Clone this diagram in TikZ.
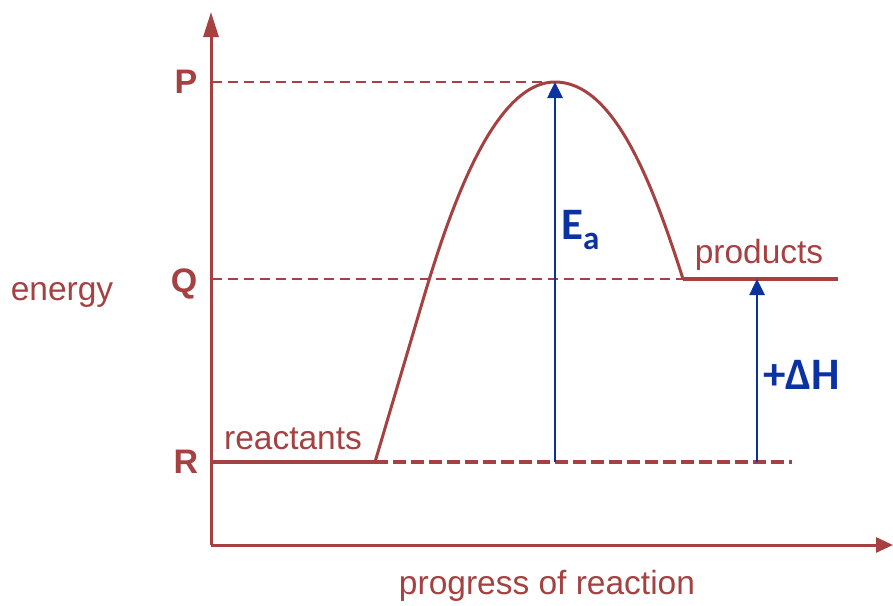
\documentclass[tikz,border=0pt]{standalone}
\usepackage{fontspec}
\setmainfont{Liberation Sans}
\newfontfamily\calib{Carlito}
\usetikzlibrary{arrows.meta}
\definecolor{axisred}{RGB}{165,65,65}
\definecolor{arrblue}{RGB}{10,50,160}
\begin{document}
\begin{tikzpicture}[x=1pt,y=-1pt,
  lbl/.style={text=axisred,font=\fontsize{33.5}{36}\selectfont,inner sep=0pt},
  axlbl/.style={text=axisred,font=\fontsize{34}{36}\selectfont\bfseries,inner sep=0pt},
  bluelbl/.style={text=arrblue,font=\calib\fontsize{45}{47}\selectfont\bfseries,inner sep=0pt},
  axisline/.style={draw=axisred,line width=3pt},
  guide/.style={draw=axisred,line width=1.4pt,dash pattern=on 10pt off 6pt},
  bluearrow/.style={draw=arrblue,line width=2.6pt,-{Triangle[length=16pt,width=15pt]}}]
\useasboundingbox (0,0) rectangle (893,605);
% coordinates
\coordinate (O) at (211,545);
\coordinate (ytop) at (211,12);
\coordinate (xend) at (893,545);
\coordinate (Pa) at (212,82);
\coordinate (Qa) at (212,279);
\coordinate (Ra) at (211,462);
\coordinate (rs) at (375,462);
\coordinate (rd) at (792,462);
\coordinate (peak) at (555,82);
\coordinate (pbase) at (555,462);
\coordinate (ps) at (683,279);
\coordinate (pe) at (838,279);
\coordinate (dhtop) at (757,279);
\coordinate (dhbase) at (757,462);
% axes
\draw[axisline,-{Triangle[length=25pt,width=15pt]}] (O) -- (ytop);
\draw[axisline,-{Triangle[length=17pt,width=15pt]}] (O) -- (xend);
% guides
\draw[guide] (Pa) -- (peak);
\draw[guide] (Qa) -- (ps);
% reactants level
\draw[draw=axisred,line width=4pt] (Ra) -- (rs);
\draw[draw=axisred,line width=4pt,dash pattern=on 13pt off 5pt] (rs) -- (rd);
% curve
\draw[draw=axisred,line width=3pt,line join=round]
  (rs) -- (420,310) .. controls (445,225) and (490,82) .. (peak)
  .. controls (612,82) and (650,175) .. (ps);
% products
\draw[draw=axisred,line width=4pt] (ps) -- (pe);
% blue arrows
\draw[bluearrow] (pbase) -- (peak);
\draw[bluearrow] (dhbase) -- (dhtop);
% labels
\node[axlbl,anchor=base] (P) at (186,93) {P};
\node[axlbl,anchor=base] (Q) at (184,292) {Q};
\node[axlbl,anchor=base] (R) at (186,473) {R};
\node[lbl,anchor=base] (energy) at (62,300) {energy};
\node[lbl,anchor=base] (prog) at (547,594) {progress of reaction};
\node[lbl,anchor=base] (react) at (293,449) {reactants};
\node[lbl,anchor=base] (prod) at (759,263) {products};
\node[bluelbl,anchor=base west] (Ea) at (561,239) {E\raisebox{-10pt}{\fontsize{33}{33}\selectfont a}};
\node[bluelbl,anchor=base west] (dH) at (763,389) {+ΔH};
\end{tikzpicture}
\end{document}
